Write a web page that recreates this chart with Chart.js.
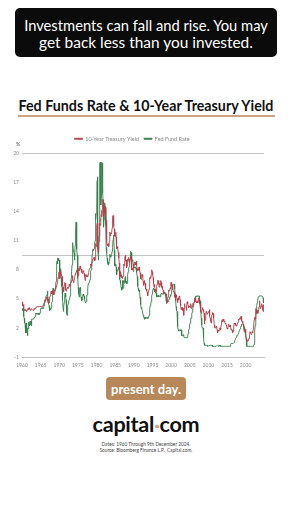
<!DOCTYPE html>
<html>
<head>
<meta charset="utf-8">
<script src="https://cdn.jsdelivr.net/npm/chart.js@4.4.1/dist/chart.umd.min.js"></script>
<style>
  html, body { margin: 0; padding: 0; background: #fff; }
  body { width: 292px; height: 520px; position: relative; overflow: hidden; font-family: 'Lato', 'Noto Sans', sans-serif; }
  .abs { position: absolute; }
  .center { left: 0; width: 292px; text-align: center; white-space: nowrap; }
  .fit { display: inline-block; }
  #warn { left: 15px; top: 8px; width: 262px; height: 49px; background: #0b0b0b; border-radius: 5px; color: #fff; text-align: center; }
  #warn .line { height: 17px; line-height: 17px; font-size: 13px; white-space: nowrap; }
  #title { top: 97px; height: 18px; line-height: 18px; font-weight: 700; font-size: 14px; color: #111; }
  #rule { left: 18px; top: 115px; width: 257px; height: 2px; background: #c9a47f; }
  #pct { left: 16px; top: 141px; font-size: 5.5px; color: #555; }
  #chartBox { left: 0; top: 128px; width: 292px; height: 246px; }
  #present { left: 106px; top: 377px; width: 80px; height: 23px; line-height: 23px; border-radius: 4px; background: #b8885b; color: #fff; font-weight: 700; text-align: center; font-size: 14px; white-space: nowrap; }
  #logo { top: 412px; height: 24px; line-height: 24px; font-weight: 700; font-size: 21px; color: #111; letter-spacing: -0.3px; }
  #logo .dot { display: inline-block; width: 3.5px; height: 3.5px; border-radius: 50%; background: #c9a47f; vertical-align: middle; margin: 0 1px; }
  .note { font-size: 4.6px; color: #444; height: 6px; line-height: 6px; }
</style>
</head>
<body>
<div id="warn" class="abs">
  <div style="height:8.5px"></div>
  <div class="line"><span class="fit" data-w="244">Investments can fall and rise. You may</span></div>
  <div class="line"><span class="fit" data-w="214">get back less than you invested.</span></div>
</div>
<div id="title" class="abs center"><span class="fit" data-w="255">Fed Funds Rate &amp; 10-Year Treasury Yield</span></div>
<div id="rule" class="abs"></div>
<div id="chartBox" class="abs"><canvas id="rateChart"></canvas></div>
<div id="pct" class="abs">%</div>
<div id="present" class="abs"><span class="fit" data-w="70">present day.</span></div>
<div id="logo" class="abs center"><span class="fit" data-w="107">capital<span class="dot"></span>com</span></div>
<div class="abs center note" style="top:441px"><span class="fit" data-w="89">Dates: 1960 Through 9th December 2024.</span></div>
<div class="abs center note" style="top:446.5px"><span class="fit" data-w="93">Source: Bloomberg Finance L.P., Capital.com.</span></div>

<script>
// data: monthly, Jan 1960 - Dec 2024
const startYear = 1960;
const seriesNames = ['10-Year Treasury Yield', 'Fed Fund Rate'];

const treasuryYield = [
  4.7,4.5,4.3,4.3,4.4,4.2,3.9,3.8,3.8,3.9,3.9,3.8,
  3.8,3.8,3.7,3.8,3.7,3.9,3.9,4.0,4.0,3.9,3.9,4.1,
  4.1,4.0,3.9,3.8,3.9,3.9,4.0,4.0,4.0,3.9,3.9,3.9,
  3.8,3.9,3.9,4.0,3.9,4.0,4.0,4.0,4.1,4.1,4.1,4.1,
  4.2,4.2,4.2,4.2,4.2,4.2,4.2,4.2,4.2,4.2,4.2,4.2,
  4.2,4.2,4.2,4.2,4.2,4.2,4.2,4.3,4.3,4.4,4.5,4.6,
  4.6,4.8,4.9,4.8,4.8,4.8,5.0,5.2,5.2,5.0,5.2,4.8,
  4.6,4.6,4.5,4.6,4.9,5.0,5.2,5.3,5.3,5.5,5.8,5.7,
  5.5,5.6,5.7,5.6,5.9,5.7,5.5,5.4,5.5,5.6,5.7,6.0,
  6.0,6.2,6.3,6.2,6.3,6.6,6.7,6.7,7.2,7.1,7.1,7.7,
  7.8,7.2,7.1,7.4,7.9,7.8,7.5,7.5,7.4,7.3,6.8,6.4,
  6.2,6.1,5.7,5.8,6.4,6.5,6.7,6.6,6.1,5.9,5.8,5.9,
  5.9,6.1,6.1,6.2,6.1,6.1,6.1,6.2,6.5,6.5,6.3,6.4,
  6.5,6.6,6.7,6.7,6.9,6.9,7.1,7.4,7.1,6.8,6.7,6.7,
  7.0,7.0,7.2,7.5,7.6,7.5,7.8,8.0,8.0,7.9,7.7,7.4,
  7.5,7.4,7.7,8.2,8.1,7.9,8.1,8.4,8.4,8.1,8.1,8.0,
  7.7,7.8,7.7,7.6,7.9,7.9,7.8,7.8,7.6,7.4,7.3,6.9,
  7.2,7.4,7.5,7.4,7.5,7.3,7.3,7.4,7.3,7.5,7.6,7.7,
  8.0,8.0,8.0,8.2,8.4,8.5,8.6,8.4,8.4,8.6,8.8,9.0,
  9.1,9.1,9.1,9.2,9.3,8.9,9.0,9.0,9.3,10.3,10.7,10.4,
  10.8,12.4,12.8,11.5,10.2,9.8,10.3,11.1,11.5,11.8,12.7,12.8,
  12.6,13.2,13.1,13.7,14.1,13.5,14.3,14.9,15.3,15.2,13.4,13.7,
  14.6,14.4,13.9,13.9,13.6,14.3,14.0,13.1,12.3,10.9,10.6,10.5,
  10.5,10.7,10.5,10.4,10.4,10.9,11.4,11.9,11.7,11.5,11.7,11.8,
  11.7,11.8,12.3,12.6,13.4,13.6,13.4,12.7,12.5,12.2,11.6,11.5,
  11.4,11.5,11.9,11.4,10.9,10.2,10.3,10.3,10.4,10.2,9.8,9.3,
  9.2,8.7,7.8,7.3,7.7,7.8,7.3,7.2,7.5,7.4,7.3,7.1,
  7.1,7.3,7.3,8.0,8.6,8.4,8.5,8.8,9.4,9.5,8.9,9.0,
  8.7,8.2,8.4,8.7,9.1,8.9,9.1,9.3,9.0,8.8,9.0,9.1,
  9.1,9.2,9.4,9.2,8.9,8.3,8.0,8.1,8.2,8.0,7.9,7.8,
  8.2,8.5,8.6,8.8,8.8,8.5,8.5,8.8,8.9,8.7,8.4,8.1,
  8.1,7.9,8.1,8.0,8.1,8.3,8.3,7.9,7.7,7.5,7.4,7.1,
  7.0,7.3,7.5,7.5,7.4,7.3,6.8,6.6,6.4,6.6,6.9,6.8,
  6.6,6.3,6.0,6.0,6.0,6.0,5.8,5.7,5.4,5.3,5.7,5.8,
  5.8,6.0,6.5,7.0,7.2,7.1,7.3,7.2,7.5,7.7,8.0,7.8,
  7.8,7.5,7.2,7.1,6.6,6.2,6.3,6.5,6.2,6.0,5.9,5.7,
  5.7,5.8,6.3,6.5,6.7,6.9,6.9,6.6,6.8,6.5,6.2,6.3,
  6.6,6.4,6.7,6.9,6.7,6.5,6.2,6.3,6.2,6.0,5.9,5.8,
  5.5,5.6,5.7,5.6,5.7,5.5,5.5,5.3,4.8,4.5,4.8,4.7,
  4.7,5.0,5.2,5.2,5.5,5.9,5.8,5.9,5.9,6.1,6.0,6.3,
  6.7,6.5,6.3,6.0,6.4,6.1,6.1,5.8,5.8,5.7,5.7,5.2,
  5.2,5.1,4.9,5.1,5.4,5.3,5.2,5.0,4.7,4.6,4.7,5.1,
  5.0,4.9,5.3,5.2,5.2,4.9,4.7,4.3,3.9,3.9,4.1,4.0,
  4.1,3.9,3.8,4.0,3.6,3.3,4.0,4.5,4.3,4.3,4.3,4.3,
  4.2,4.1,3.8,4.4,4.7,4.7,4.5,4.3,4.1,4.1,4.2,4.2,
  4.2,4.2,4.5,4.3,4.1,4.0,4.2,4.3,4.2,4.5,4.5,4.5,
  4.4,4.6,4.7,5.0,5.1,5.1,5.1,4.9,4.7,4.7,4.6,4.6,
  4.8,4.7,4.6,4.7,4.8,5.1,5.0,4.7,4.5,4.5,4.2,4.1,
  3.7,3.7,3.5,3.7,3.9,4.1,4.0,3.9,3.7,3.8,3.5,2.4,
  2.5,2.9,2.8,2.9,3.3,3.7,3.6,3.6,3.4,3.4,3.4,3.6,
  3.7,3.7,3.7,3.9,3.4,3.2,3.0,2.7,2.7,2.5,2.8,3.3,
  3.4,3.6,3.4,3.5,3.2,3.0,3.0,2.3,2.0,2.2,2.0,2.0,
  2.0,2.0,2.2,2.1,1.8,1.6,1.5,1.7,1.7,1.8,1.7,1.7,
  1.9,2.0,2.0,1.8,1.9,2.3,2.6,2.7,2.8,2.6,2.7,2.9,
  2.9,2.7,2.7,2.7,2.6,2.6,2.5,2.4,2.5,2.3,2.3,2.2,
  1.9,2.0,2.0,1.9,2.2,2.4,2.3,2.2,2.2,2.1,2.3,2.2,
  2.1,1.8,1.9,1.8,1.8,1.6,1.5,1.6,1.6,1.8,2.1,2.5,
  2.4,2.4,2.5,2.3,2.3,2.2,2.3,2.2,2.2,2.4,2.4,2.4,
  2.6,2.9,2.8,2.9,3.0,2.9,2.9,2.9,3.0,3.2,3.1,2.8,
  2.7,2.7,2.6,2.5,2.4,2.1,2.1,1.6,1.7,1.7,1.8,1.9,
  1.8,1.5,0.9,0.7,0.7,0.7,0.6,0.7,0.7,0.8,0.9,0.9,
  1.1,1.3,1.6,1.6,1.6,1.5,1.3,1.3,1.4,1.6,1.6,1.5,
  1.8,1.9,2.1,2.8,2.9,3.1,2.9,2.9,3.5,4.0,3.9,3.6,
  3.5,3.8,3.7,3.5,3.6,3.8,3.9,4.2,4.4,4.8,4.5,4.0,
  4.1,4.2,4.2,4.5,4.5,4.3,4.3,3.9,3.7,4.1,4.4,4.2
];

const fedFundsRate = [
  4.0,4.0,3.8,3.9,3.9,3.3,3.2,3.0,2.6,2.5,2.4,2.0,
  1.5,2.5,2.0,1.5,2.0,1.7,1.2,2.0,1.9,2.3,2.6,2.3,
  2.2,2.4,2.7,2.7,2.3,2.7,2.7,2.2,2.9,2.9,2.9,2.9,
  2.9,3.0,3.0,3.0,3.0,3.0,3.2,3.5,3.5,3.5,3.5,3.4,
  3.5,3.5,3.4,3.5,3.5,3.5,3.4,3.5,3.5,3.4,3.6,3.9,
  3.9,4.0,4.0,4.1,4.1,4.0,4.1,4.1,4.0,4.1,4.1,4.3,
  4.4,4.6,4.7,4.7,4.9,5.2,5.3,5.4,5.4,5.4,5.8,5.4,
  4.9,5.0,4.5,4.3,3.9,3.9,3.8,3.9,4.0,3.9,4.1,4.5,
  4.6,4.7,5.1,5.7,6.1,6.1,5.9,6.0,5.8,5.9,5.8,6.0,
  6.3,6.6,6.8,7.4,8.7,8.9,8.6,9.2,9.2,9.0,8.9,9.0,
  9.0,8.6,7.8,8.1,7.9,7.6,7.2,6.6,6.3,6.2,5.6,4.9,
  4.1,3.7,3.7,4.2,4.6,5.0,5.3,5.6,5.6,5.2,4.9,4.1,
  3.5,3.3,3.8,4.2,4.3,4.5,4.6,4.8,4.9,5.0,5.1,5.3,
  5.9,6.6,7.1,7.1,7.8,8.5,10.4,10.5,10.8,10.0,10.0,9.9,
  9.7,9.0,9.4,10.5,11.3,11.9,12.9,12.0,11.3,10.1,9.5,8.5,
  7.1,6.2,5.5,5.5,5.2,5.6,6.1,6.1,6.2,5.8,5.2,5.2,
  4.9,4.8,5.0,4.9,5.3,5.5,5.3,5.3,5.3,5.0,5.0,4.7,
  4.6,4.7,4.7,4.7,5.4,5.4,5.4,5.9,6.1,6.5,6.5,6.6,
  6.7,6.8,6.8,7.0,7.4,7.6,7.8,8.0,8.5,8.7,9.6,10.0,
  10.1,10.1,10.1,10.0,10.2,10.3,10.5,11.0,11.4,13.8,13.2,13.8,
  14.0,14.1,17.2,17.6,11.0,9.5,9.0,9.6,10.9,12.8,15.9,18.9,
  19.1,15.9,14.7,15.7,18.5,19.1,19.0,17.8,15.9,15.1,13.3,12.4,
  13.2,14.8,14.7,14.9,14.5,14.2,12.6,10.1,10.3,9.7,9.2,8.9,
  8.7,8.5,8.8,8.8,8.6,9.0,9.4,9.6,9.5,9.5,9.3,9.5,
  9.6,9.6,9.9,10.3,10.3,11.1,11.2,11.6,11.3,10.0,9.4,8.4,
  8.4,8.5,8.6,8.3,8.0,7.5,7.9,7.9,7.9,8.0,8.1,8.3,
  8.1,7.9,7.5,7.0,6.9,6.9,6.6,6.2,5.9,5.9,6.0,6.9,
  6.4,6.1,6.1,6.4,6.9,6.7,6.6,6.7,7.2,7.3,6.7,6.8,
  6.8,6.6,6.6,6.9,7.1,7.5,7.8,8.0,8.2,8.3,8.4,8.8,
  9.1,9.4,9.9,9.8,9.8,9.5,9.2,9.0,9.0,8.9,8.6,8.5,
  8.2,8.2,8.3,8.3,8.2,8.3,8.2,8.1,8.2,8.1,7.7,7.3,
  6.9,6.3,6.1,5.9,5.8,5.9,5.8,5.7,5.2,5.2,4.8,4.4,
  4.0,4.1,4.0,3.8,3.8,3.8,3.3,3.2,3.2,3.0,3.1,2.9,
  3.0,3.0,3.1,3.0,3.0,3.0,3.1,3.0,3.1,3.0,3.0,3.0,
  3.1,3.3,3.5,3.6,4.0,4.3,4.3,4.5,4.7,4.8,5.3,5.5,
  5.5,5.9,6.0,6.1,6.0,6.0,5.9,5.7,5.8,5.8,5.8,5.6,
  5.6,5.2,5.3,5.2,5.2,5.3,5.4,5.2,5.3,5.2,5.3,5.3,
  5.3,5.2,5.4,5.5,5.5,5.6,5.5,5.5,5.5,5.5,5.5,5.5,
  5.6,5.5,5.5,5.5,5.5,5.6,5.5,5.6,5.5,5.1,4.8,4.7,
  4.6,4.8,4.8,4.7,4.7,4.8,5.0,5.1,5.2,5.2,5.4,5.3,
  5.5,5.7,5.9,6.0,6.3,6.5,6.5,6.5,6.5,6.5,6.5,6.4,
  6.0,5.5,5.3,4.8,4.2,4.0,3.8,3.7,3.1,2.5,2.1,1.8,
  1.7,1.7,1.7,1.8,1.8,1.8,1.7,1.7,1.8,1.8,1.3,1.2,
  1.2,1.3,1.3,1.3,1.3,1.2,1.0,1.0,1.0,1.0,1.0,1.0,
  1.0,1.0,1.0,1.0,1.0,1.0,1.3,1.4,1.6,1.8,1.9,2.2,
  2.3,2.5,2.6,2.8,3.0,3.0,3.3,3.5,3.6,3.8,4.0,4.2,
  4.3,4.5,4.6,4.8,4.9,5.0,5.2,5.3,5.3,5.3,5.3,5.2,
  5.3,5.3,5.3,5.3,5.3,5.3,5.3,5.0,4.9,4.8,4.5,4.2,
  3.9,3.0,2.6,2.3,2.0,2.0,2.0,2.0,1.8,1.0,0.4,0.2,
  0.2,0.2,0.2,0.2,0.2,0.2,0.2,0.2,0.2,0.1,0.1,0.1,
  0.1,0.1,0.2,0.2,0.2,0.2,0.2,0.2,0.2,0.2,0.2,0.2,
  0.2,0.2,0.1,0.1,0.1,0.1,0.1,0.1,0.1,0.1,0.1,0.1,
  0.1,0.1,0.1,0.1,0.2,0.2,0.2,0.1,0.1,0.2,0.2,0.2,
  0.1,0.2,0.1,0.2,0.1,0.1,0.1,0.1,0.1,0.1,0.1,0.1,
  0.1,0.1,0.1,0.1,0.1,0.1,0.1,0.1,0.1,0.1,0.1,0.1,
  0.1,0.1,0.1,0.1,0.1,0.1,0.1,0.1,0.1,0.1,0.1,0.2,
  0.3,0.4,0.4,0.4,0.4,0.4,0.4,0.4,0.4,0.4,0.4,0.5,
  0.7,0.7,0.8,0.9,0.9,1.0,1.2,1.2,1.2,1.2,1.2,1.3,
  1.4,1.4,1.5,1.7,1.7,1.8,1.9,1.9,2.0,2.2,2.2,2.3,
  2.4,2.4,2.4,2.4,2.4,2.4,2.4,2.1,2.0,1.8,1.6,1.6,
  1.6,1.6,0.7,0.1,0.1,0.1,0.1,0.1,0.1,0.1,0.1,0.1,
  0.1,0.1,0.1,0.1,0.1,0.1,0.1,0.1,0.1,0.1,0.1,0.1,
  0.1,0.1,0.2,0.3,0.8,1.2,1.7,2.3,2.6,3.1,3.8,4.1,
  4.3,4.6,4.7,4.8,5.1,5.1,5.1,5.3,5.3,5.3,5.3,5.3,
  5.3,5.3,5.3,5.3,5.3,5.3,5.3,5.3,5.1,4.8,4.6,4.6
];

const yTicks = [-1, 2, 5, 8, 11, 14, 17, 20];
const yMidLine = 9.5;
const xTickStep = 5;

// shrink/grow text to the width measured on the picture
document.querySelectorAll('.fit').forEach(function(el) {
    const target = parseFloat(el.dataset.w);
    const w = el.getBoundingClientRect().width;
    const fs = parseFloat(getComputedStyle(el.parentNode).fontSize);
    if (w > 0) el.style.fontSize = (fs * target / w) + 'px';
});

function toPoints(values) {
    return values.map(function(v, i) { return { x: startYear + i / 12, y: v }; });
}

const legendGap = {
    id: 'legendGap',
    beforeInit(chart) {
        const fit = chart.legend.fit;
        chart.legend.fit = function() {
            fit.bind(chart.legend)();
            this.height += 2;
        };
    }
};

const tickColor = '#8a8a8a';
const gridColor = '#c4c4c4';

new Chart(document.getElementById('rateChart'), {
    type: 'line',
    data: {
        datasets: [{
            label: seriesNames[0],
            data: toPoints(treasuryYield),
            borderColor: '#b0434d',
            backgroundColor: '#b0434d',
            borderWidth: 0.9,
            pointRadius: 0
        }, {
            label: seriesNames[1],
            data: toPoints(fedFundsRate),
            borderColor: '#357f4b',
            backgroundColor: '#357f4b',
            borderWidth: 0.9,
            pointRadius: 0
        }]
    },
    options: {
        responsive: true,
        maintainAspectRatio: false,
        animation: false,
        devicePixelRatio: 1,
        layout: { padding: { left: 0, right: 28, top: 3, bottom: 1 } },
        plugins: {
            legend: {
                labels: {
                    boxWidth: 8,
                    boxHeight: 1,
                    padding: 5,
                    color: tickColor,
                    font: { size: 5.5, family: 'Lato' }
                }
            },
            tooltip: { enabled: false }
        },
        scales: {
            x: {
                type: 'linear',
                min: startYear,
                max: startYear + (treasuryYield.length - 1) / 12,
                grid: { display: false, drawTicks: false },
                border: { display: true, color: gridColor },
                ticks: {
                    stepSize: xTickStep,
                    includeBounds: false,
                    maxRotation: 0,
                    autoSkip: false,
                    padding: 5,
                    color: tickColor,
                    font: { size: 5, family: 'Lato' },
                    callback: function(v) { return String(v); }
                }
            },
            y: {
                min: yTicks[0],
                max: yTicks[yTicks.length - 1],
                afterBuildTicks: function(scale) {
                    scale.ticks = yTicks.concat([yMidLine]).sort(function(a, b) { return a - b; })
                        .map(function(v) { return { value: v }; });
                },
                afterFit: function(scale) { scale.width = 22; },
                grid: {
                    drawTicks: false,
                    color: function(ctx) {
                        const v = ctx.tick.value;
                        return (v === yMidLine || v === yTicks[0] || v === yTicks[yTicks.length - 1]) ? gridColor : 'rgba(0,0,0,0)';
                    }
                },
                border: { display: false },
                ticks: {
                    padding: 3,
                    color: tickColor,
                    font: { size: 5, family: 'Lato' },
                    callback: function(v) { return v === yMidLine ? '' : String(v); }
                }
            }
        }
    },
    plugins: [legendGap]
});
</script>
</body>
</html>
